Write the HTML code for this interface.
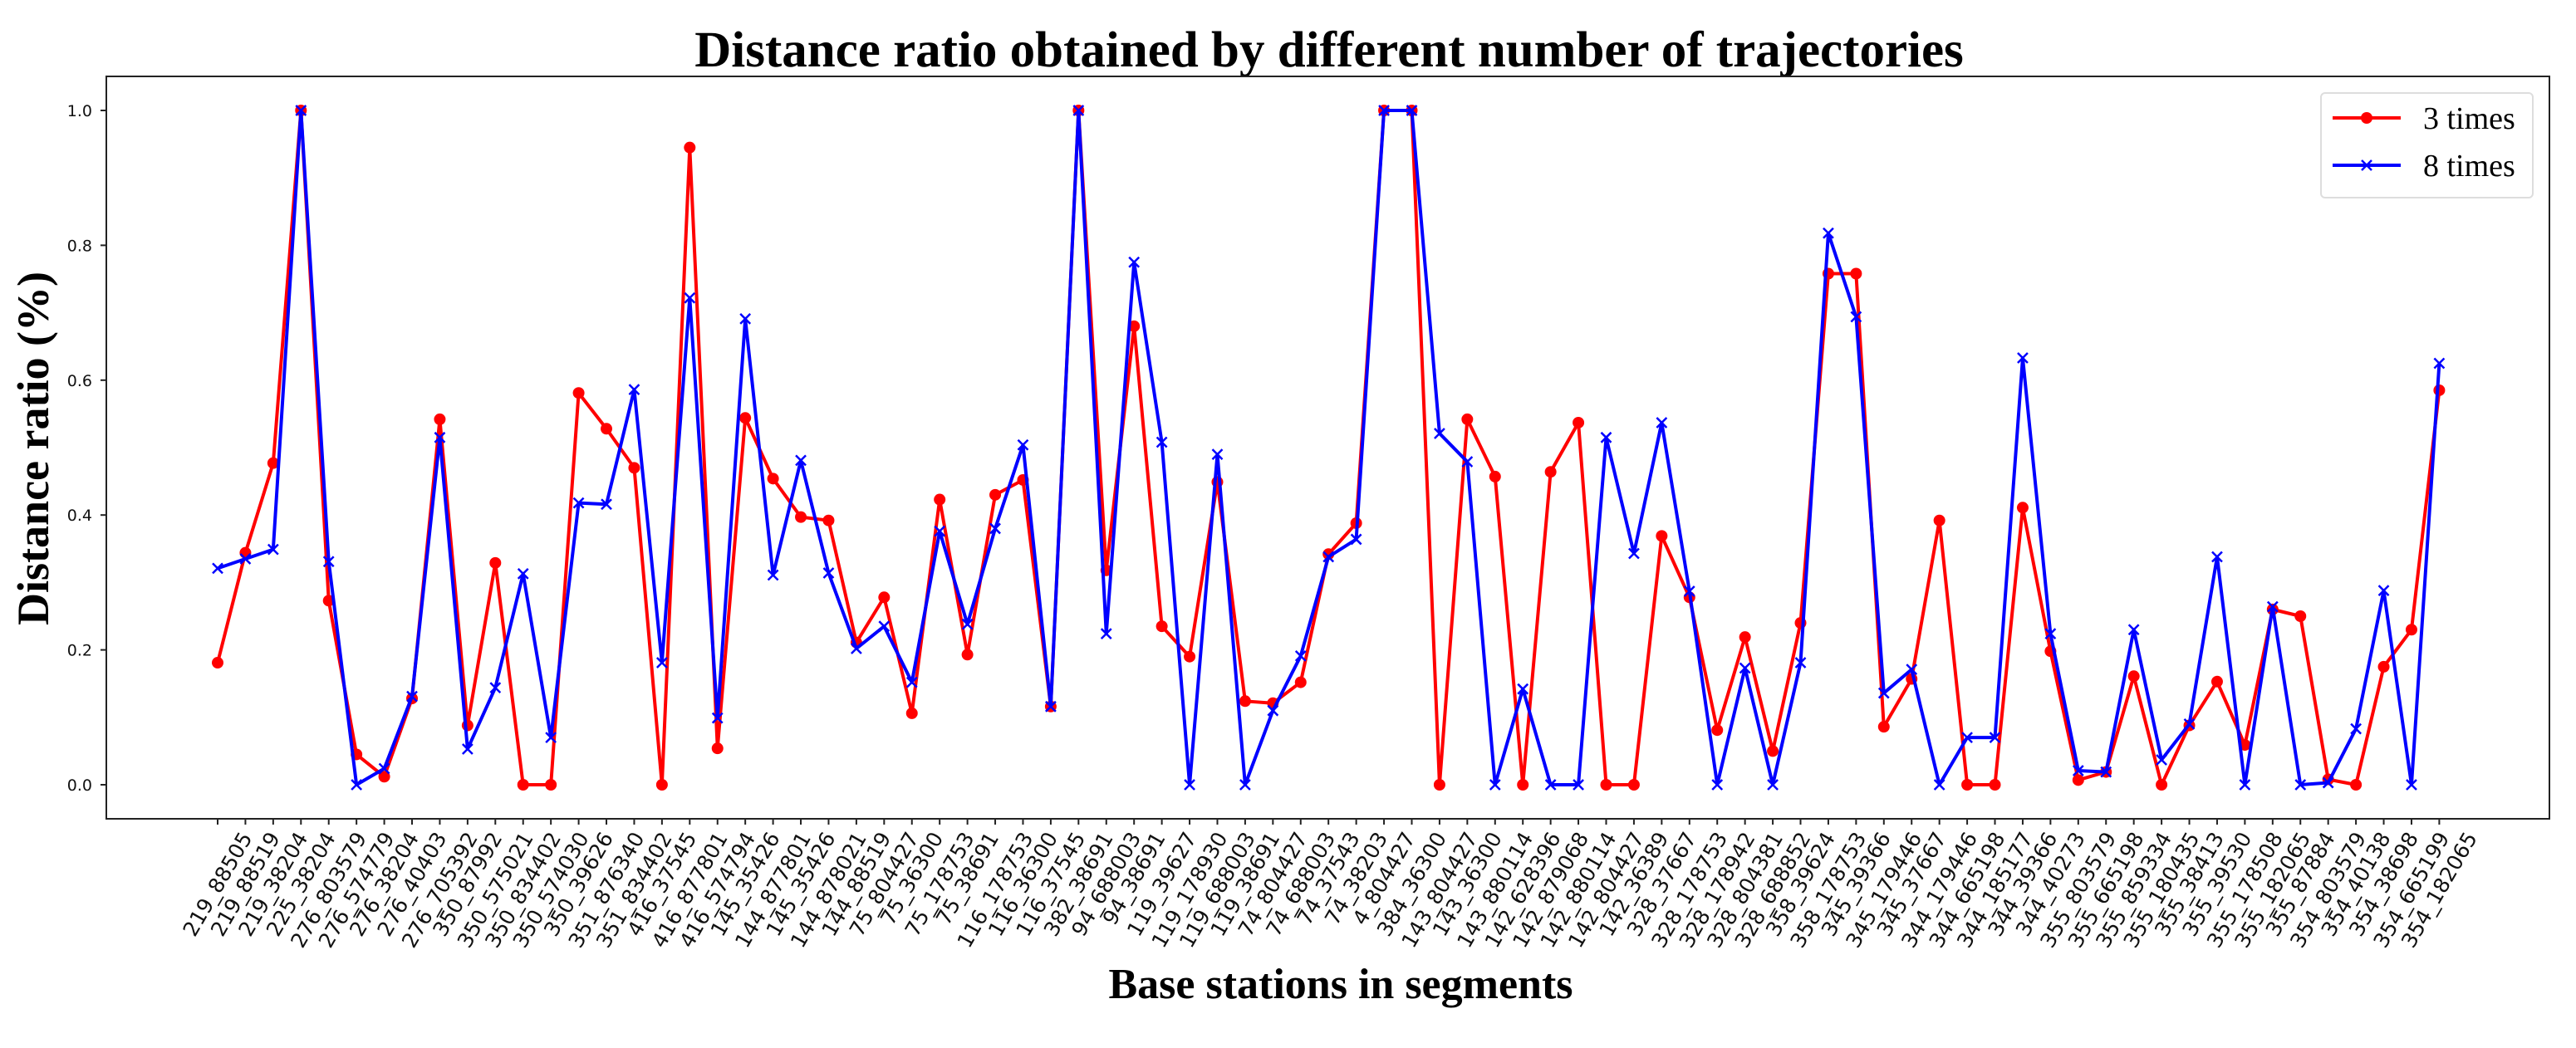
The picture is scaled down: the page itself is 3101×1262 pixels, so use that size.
<!DOCTYPE html>
<html><head><meta charset="utf-8"><style>
html,body{margin:0;padding:0;background:#fff;}
svg{display:block;}
</style></head><body>
<svg id="chart" width="3101" height="1262" viewBox="0 0 3101 1262" xmlns="http://www.w3.org/2000/svg">
<rect width="3101" height="1262" fill="#fff"/>
<text x="1600" y="80" text-anchor="middle" font-family="Liberation Serif, serif" font-weight="bold" font-size="61">Distance ratio obtained by different number of trajectories</text>
<text transform="translate(58,540) rotate(-90)" text-anchor="middle" font-family="Liberation Serif, serif" font-weight="bold" font-size="54">Distance ratio (%)</text>
<text x="1614" y="1202" text-anchor="middle" font-family="Liberation Serif, serif" font-weight="bold" font-size="52">Base stations in segments</text>
<g id="yticks"></g>
<g id="xticks"></g>
<g id="series"></g>
<rect x="128" y="92" width="2941" height="894" fill="none" stroke="#222" stroke-width="2"/>
<g>
<rect x="2794" y="112" width="255" height="126" rx="5" fill="#fff" stroke="#ddd" stroke-width="2"/>
<g>
<line x1="2808" y1="142" x2="2890" y2="142" stroke="#ff0000" stroke-width="4"/>
<circle cx="2849" cy="142" r="7" fill="#ff0000"/>
<text x="2917" y="155" font-family="Liberation Serif, serif" font-size="38">3 times</text>
</g>
<g>
<line x1="2808" y1="199" x2="2890" y2="199" stroke="#0000ff" stroke-width="4"/>
<path d="M2843 193 L2855 205 M2843 205 L2855 193" stroke="#0000ff" stroke-width="2.5"/>
<text x="2917" y="212" font-family="Liberation Serif, serif" font-size="38">8 times</text>
</g>
</g>
</svg>
<script>
const categories = ["219_88505","219_88519","219_38204","225_38204","276_803579","276_574779","276_38204","276_40403","276_705392","350_87992","350_575021","350_834402","350_574030","350_39626","351_876340","351_834402","416_37545","416_877801","416_574794","145_35426","144_877801","145_35426","144_878021","144_88519","75_804427","75_36300","75_178753","75_38691","116_178753","116_36300","116_37545","382_38691","94_688003","94_38691","119_39627","119_178930","119_688003","119_38691","74_804427","74_688003","74_37543","74_38203","4_804427","384_36300","143_804427","143_36300","143_880114","142_628396","142_879068","142_880114","142_804427","142_36389","328_37667","328_178753","328_178942","328_804381","328_688852","358_39624","358_178753","345_39366","345_179446","345_37667","344_179446","344_665198","344_185177","344_39366","344_40273","355_803579","355_665198","355_859334","355_180435","355_38413","355_39530","355_178508","355_182065","355_87884","354_803579","354_40138","354_38698","354_665199","354_182065"];
const series3 = [0.181,0.344,0.477,1.0,0.273,0.045,0.012,0.128,0.542,0.088,0.329,0,0,0.581,0.528,0.470,0,0.945,0.054,0.544,0.454,0.397,0.392,0.211,0.278,0.106,0.423,0.193,0.430,0.452,0.116,1.0,0.318,0.680,0.235,0.19,0.449,0.124,0.121,0.152,0.342,0.388,1.0,1.0,0,0.542,0.457,0,0.464,0.537,0,0,0.369,0.278,0.081,0.219,0.05,0.24,0.758,0.758,0.086,0.157,0.392,0,0,0.411,0.198,0.007,0.019,0.161,0,0.088,0.153,0.059,0.26,0.25,0.008,0,0.175,0.23,0.585];
const series8 = [0.321,0.335,0.349,1.0,0.331,0,0.024,0.131,0.515,0.053,0.144,0.313,0.07,0.418,0.416,0.586,0.181,0.722,0.099,0.691,0.311,0.481,0.314,0.202,0.235,0.152,0.376,0.238,0.380,0.504,0.116,1.0,0.224,0.775,0.508,0,0.49,0,0.11,0.191,0.338,0.364,1.0,1.0,0.521,0.479,0,0.142,0,0,0.515,0.343,0.537,0.287,0,0.173,0,0.181,0.818,0.694,0.136,0.171,0,0.07,0.07,0.633,0.224,0.021,0.019,0.23,0.037,0.09,0.338,0,0.264,0,0.003,0.083,0.288,0,0.625];
const yTicks = [0.0,0.2,0.4,0.6,0.8,1.0];
const yTickLabels = ["0.0","0.2","0.4","0.6","0.8","1.0"];

const NS="http://www.w3.org/2000/svg";
const X0=262, XSTEP=33.43, Y0=945, Y1=133;
function xScale(i){return X0+i*XSTEP;}
function yScale(v){return Y0-(Y0-Y1)*v;}
function mk(tag,attrs,parent){const e=document.createElementNS(NS,tag);for(const k in attrs)e.setAttribute(k,attrs[k]);parent.appendChild(e);return e;}

const yg=document.getElementById('yticks');
yTicks.forEach((v,i)=>{
  const y=yScale(v);
  const t=mk('line',{x1:121,y1:y,x2:128,y2:y,stroke:'#222','stroke-width':2},yg);
  
  
  const l=mk('text',{x:111,y:y+7,'text-anchor':'end','font-family':'DejaVu Sans, sans-serif','font-size':19,fill:'#111'},yg);
  
  
  l.textContent=yTickLabels[i];
});

const FS=25;
const xg=document.getElementById('xticks');
categories.forEach((c,i)=>{
  const x=xScale(i);
  const t=mk('line',{x1:x,y1:986,x2:x,y2:993,stroke:'#222','stroke-width':2},xg);
  
  
  const l=mk('text',{'text-anchor':'middle','dominant-baseline':'central','font-family':'DejaVu Sans, sans-serif','font-size':FS,fill:'#111'},xg);
  
  
  l.textContent=c;
  const L=l.getComputedTextLength();
  const H=L*0.866+FS*0.5;
  l.setAttribute('transform','translate('+x+','+(998+H/2)+') rotate(-60)');
});

const sg=document.getElementById('series');
function drawSeries(vals,color,name,marker){
  const g=mk('g',{},sg);
  
  
  const pts=vals.map((v,i)=>xScale(i)+','+yScale(v)).join(' ');
  const pl=mk('polyline',{points:pts,fill:'none',stroke:color,'stroke-width':4,'stroke-linejoin':'round'},g);
  
  
  vals.forEach((v,i)=>{
    const x=xScale(i),y=yScale(v);
    let m;
    if(marker==='o'){m=mk('circle',{cx:x,cy:y,r:7,fill:color},g);}
    else{m=mk('path',{d:'M'+(x-6)+' '+(y-6)+' L'+(x+6)+' '+(y+6)+' M'+(x-6)+' '+(y+6)+' L'+(x+6)+' '+(y-6),stroke:color,'stroke-width':2.5},g);}
    
    
  });
}
drawSeries(series3,'#ff0000','series-3-times','o');
drawSeries(series8,'#0000ff','series-8-times','x');
</script>
</body></html>
